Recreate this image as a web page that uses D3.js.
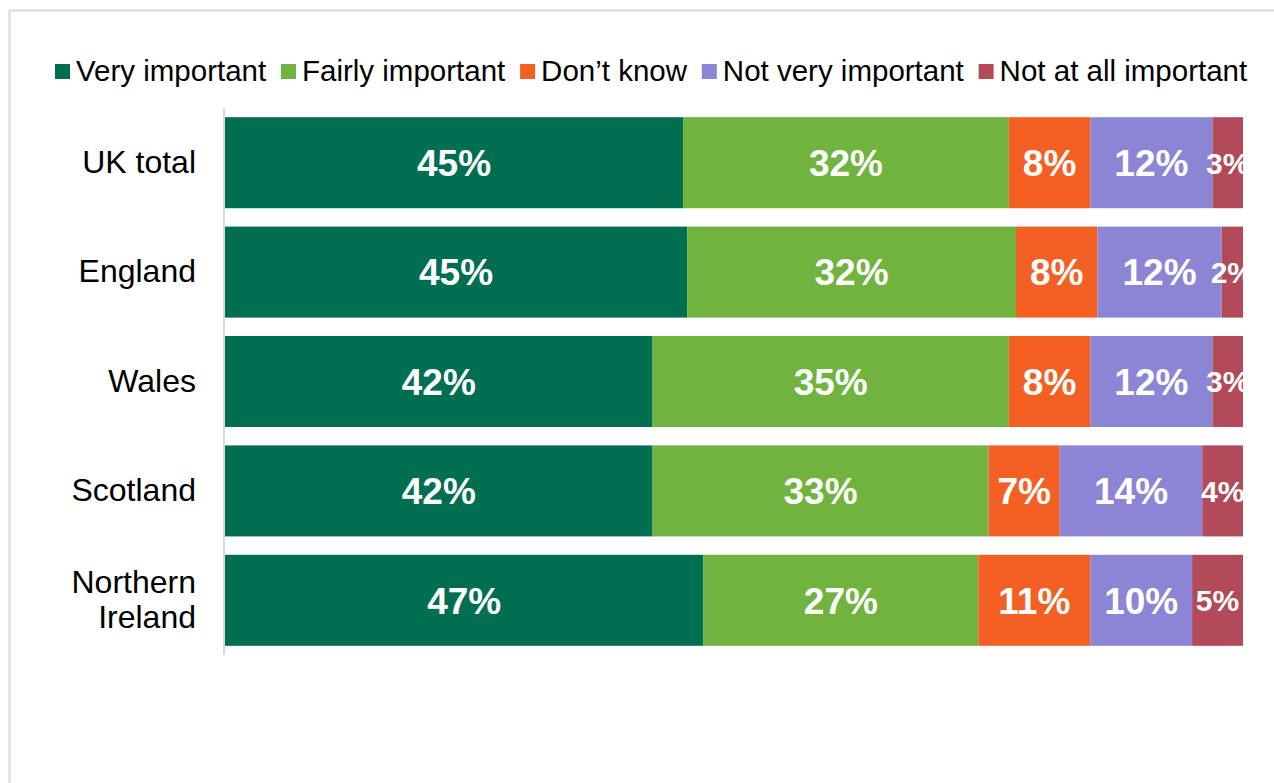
<!DOCTYPE html>
<html>
<head>
<meta charset="utf-8">
<script src="https://cdn.jsdelivr.net/npm/d3@7"></script>
<style>
html,body{margin:0;padding:0;background:#fff;}
svg{display:block;font-family:Arial,"Liberation Sans",sans-serif;}
</style>
</head>
<body>
<svg id="chart" width="1274" height="783"></svg>
<script>
const categories = ["UK total", "England", "Wales", "Scotland", "Northern Ireland"];
const seriesNames = ["Very important", "Fairly important", "Don\u2019t know", "Not very important", "Not at all important"];
const veryImportant    = [45, 45.4, 42, 42, 47];
const fairlyImportant  = [32, 32.3, 35, 33, 27];
const dontKnow         = [8, 8.0, 8, 7, 11];
const notVeryImportant = [12, 12.2, 12, 14, 10];
const notAtAllImportant= [3, 2.1, 3, 4, 5];
const colors = ["#006f51", "#70b33f", "#f46023", "#8c85d6", "#b24a5a"];

const seriesValues = [veryImportant, fairlyImportant, dontKnow, notVeryImportant, notAtAllImportant];
const rows = categories.map((c, i) => {
  const o = {category: c};
  seriesNames.forEach((s, j) => o[s] = seriesValues[j][i]);
  return o;
});

const svg = d3.select("#chart");
// outer border
svg.append("rect").attr("x", 9.5).attr("y", 10.5).attr("width", 1300).attr("height", 800)
  .attr("fill", "none").attr("stroke", "#d9d9d9").attr("stroke-width", 2);

const plot = {left: 224, right: 1243, top: 108, bottom: 655};
const x = d3.scaleLinear().domain([0, 100]).range([plot.left + 1, plot.right]);
const y = d3.scaleBand().domain(categories).range([plot.top, plot.bottom]).paddingInner(0.168).paddingOuter(0.084);

const stack = d3.stack().keys(seriesNames);
const stacked = stack(rows);

svg.append("defs").append("clipPath").attr("id", "plotclip")
  .append("rect").attr("x", plot.left).attr("y", plot.top).attr("width", plot.right - plot.left).attr("height", plot.bottom - plot.top);

const g = svg.append("g");
stacked.forEach((layer, j) => {
  const lg = g.append("g").attr("fill", colors[j]);
  lg.selectAll("rect").data(layer).join("rect")
    .attr("x", d => x(d[0]))
    .attr("y", d => y(d.data.category))
    .attr("width", d => x(d[1]) - x(d[0]))
    .attr("height", y.bandwidth());
});

const lbl = svg.append("g").attr("clip-path", "url(#plotclip)");
stacked.forEach((layer, j) => {
  lbl.selectAll(null).data(layer).join("text")
    .attr("x", d => (x(d[0]) + x(d[1])) / 2)
    .attr("y", d => y(d.data.category) + y.bandwidth() / 2)
    .attr("dy", "0.36em")
    .attr("text-anchor", "middle")
    .attr("fill", "#fff")
    .attr("font-weight", "bold")
    .attr("font-size", j === 4 ? 30 : 37)
    .text(d => Math.round(d[1] - d[0]) + "%");
});

// axis
const yAxis = d3.axisLeft(y).tickSize(0).tickPadding(28);
const ax = svg.append("g").attr("transform", `translate(${plot.left},0)`).call(yAxis);
ax.select(".domain").attr("stroke", "#d9d9d9").attr("stroke-width", 2).attr("d", `M0,${plot.top}V${plot.bottom}`);
ax.selectAll(".tick text").attr("font-size", 32).attr("fill", "#000").attr("font-family", "Arial, 'Liberation Sans', sans-serif")
  .each(function(d) {
    const t = d3.select(this);
    if (d === "Northern Ireland") {
      t.text(null);
      t.append("tspan").attr("x", -28).attr("dy", "-0.22em").text("Northern");
      t.append("tspan").attr("x", -28).attr("dy", "1.1em").text("Ireland");
    }
  });

// legend
const legend = svg.append("g").attr("font-size", 29.5);
let lx = 55;
seriesNames.forEach((s, j) => {
  const item = legend.append("g").attr("transform", `translate(${lx},0)`);
  item.append("rect").attr("x", 0).attr("y", 64).attr("width", 15).attr("height", 15).attr("fill", colors[j]);
  const t = item.append("text").attr("x", 21).attr("y", 81).attr("fill", "#000").text(s);
  const w = t.node().getComputedTextLength();
  lx += 21 + w + 14.8;
});
</script>
</body>
</html>
